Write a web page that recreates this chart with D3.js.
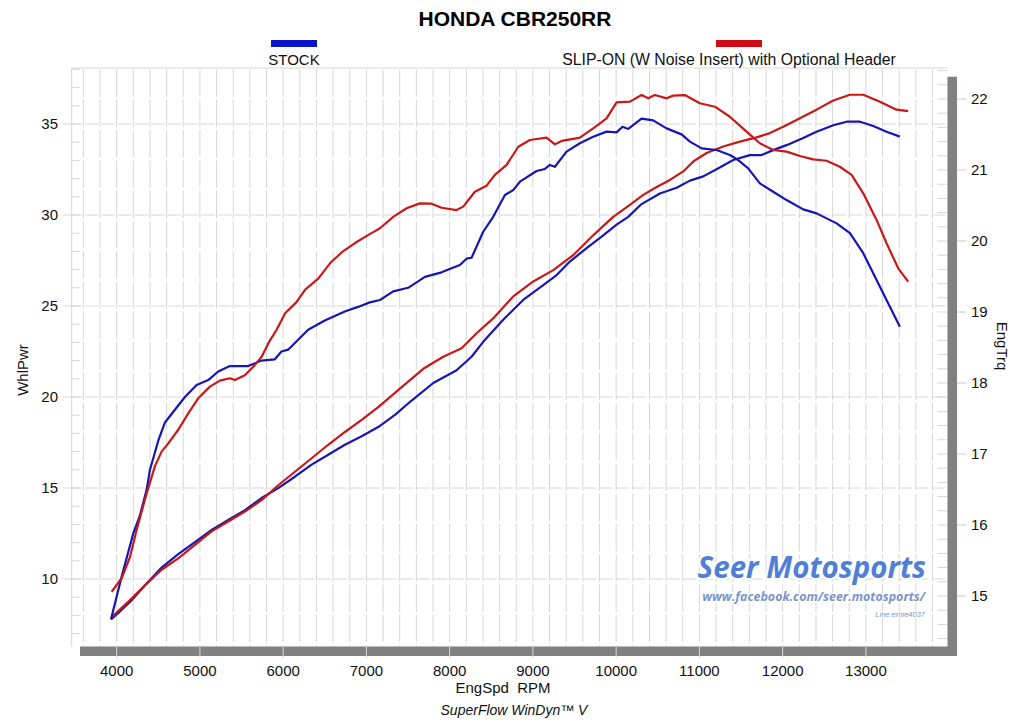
<!DOCTYPE html>
<html><head><meta charset="utf-8">
<script src="https://cdn.jsdelivr.net/npm/d3@7"></script>
<style>
html,body{margin:0;padding:0;background:#fff;}
svg{display:block;font-family:"Liberation Sans",Arial,Helvetica,sans-serif;}
</style></head>
<body><svg id="c" width="1029" height="727"></svg>
<script>
// ---------- data ----------
const title = "HONDA CBR250RR";
const seriesNames = ["STOCK", "SLIP-ON (W Noise Insert) with Optional Header"];
const xTicks = [4000,5000,6000,7000,8000,9000,10000,11000,12000,13000];
const leftTicks = [10,15,20,25,30,35];
const rightTicks = [15,16,17,18,19,20,21,22];

const stockPwrRpm = [3932,4060,4200,4280,4360,4400,4500,4580,4700,4820,4960,5100,5220,5360,5580,5740,5900,5980,6060,6300,6500,6740,6900,7040,7163,7322,7502,7703,7903,8023,8123,8203,8263,8403,8523,8664,8764,8844,9044,9144,9204,9264,9404,9564,9724,9885,10005,10077,10145,10305,10445,10605,10786,10886,11026,11206,11366,11466,11586,11726,11886,12047,12247,12407,12648,12808,12968,13128,13267,13408];
const stockPwr    = [7.79,10.13,12.51,13.5,14.9,16.0,17.6,18.6,19.3,20.0,20.66,20.93,21.4,21.7,21.7,22.0,22.07,22.5,22.6,23.7,24.2,24.7,24.95,25.2,25.33,25.8,26.0,26.6,26.85,27.07,27.25,27.6,27.65,29.08,29.9,31.1,31.37,31.83,32.42,32.53,32.75,32.65,33.48,33.94,34.3,34.58,34.54,34.85,34.73,35.3,35.2,34.76,34.43,34.03,33.66,33.57,33.3,33.02,32.56,31.74,31.28,30.82,30.31,30.09,29.54,29.0,27.9,26.43,25.15,23.86];

const slipPwrRpm = [3940,4060,4160,4240,4360,4460,4540,4620,4740,4860,4980,5120,5240,5360,5420,5540,5640,5740,5840,5920,6024,6157,6265,6421,6565,6709,6877,7045,7163,7322,7483,7643,7783,7903,8083,8163,8303,8443,8543,8684,8824,8964,9164,9264,9344,9484,9564,9724,9885,10005,10165,10305,10385,10465,10605,10685,10825,11005,11186,11366,11566,11726,11886,12047,12207,12367,12527,12687,12828,12968,13128,13248,13388,13508];
const slipPwr    = [9.30,10.04,11.2,12.7,14.7,16.2,17.0,17.45,18.2,19.1,19.93,20.57,20.9,21.03,20.93,21.2,21.66,22.2,23.1,23.68,24.6,25.2,25.9,26.5,27.36,27.97,28.5,28.96,29.27,29.9,30.37,30.64,30.62,30.4,30.27,30.46,31.28,31.61,32.2,32.75,33.75,34.12,34.25,33.88,34.07,34.18,34.25,34.76,35.31,36.19,36.23,36.59,36.41,36.59,36.41,36.56,36.59,36.14,35.95,35.4,34.58,33.94,33.57,33.48,33.24,33.06,32.98,32.65,32.2,31.19,29.73,28.45,27.07,26.34];

const stockTrqRpm = [3932,4020,4180,4340,4540,4740,4940,5141,5340,5541,5741,5941,6141,6342,6541,6742,6943,7142,7343,7550,7803,8083,8263,8403,8643,8883,9124,9285,9444,9645,9845,10005,10145,10305,10525,10726,10886,11046,11206,11406,11606,11746,11886,12047,12247,12407,12608,12768,12928,13088,13248,13408];
const stockTrq    = [14.67,14.76,14.94,15.15,15.40,15.59,15.76,15.93,16.07,16.21,16.38,16.52,16.68,16.85,16.99,17.13,17.25,17.38,17.55,17.76,18.0,18.18,18.37,18.58,18.89,19.17,19.38,19.52,19.71,19.9,20.08,20.23,20.34,20.52,20.67,20.75,20.85,20.91,21.01,21.14,21.21,21.21,21.28,21.35,21.45,21.54,21.63,21.68,21.68,21.62,21.54,21.47];

const slipTrqRpm = [3947,4139,4340,4540,4740,4940,5141,5340,5541,5741,5941,6141,6342,6541,6742,6943,7142,7403,7683,7923,8143,8323,8523,8764,9004,9244,9484,9724,9964,10165,10325,10486,10646,10806,10926,11086,11286,11486,11687,11847,12007,12207,12407,12608,12808,12968,13168,13368,13508];
const slipTrq    = [14.71,14.92,15.15,15.37,15.53,15.72,15.91,16.05,16.19,16.35,16.56,16.75,16.94,17.13,17.31,17.48,17.66,17.92,18.2,18.37,18.49,18.7,18.91,19.22,19.43,19.59,19.8,20.08,20.34,20.51,20.65,20.76,20.86,20.98,21.12,21.24,21.33,21.4,21.46,21.52,21.61,21.73,21.85,21.98,22.06,22.06,21.96,21.85,21.83];

// ---------- layout ----------
const svg = d3.select("#c");
const L = 71.7, R = 947.5, T = 68, B = 646.5;
const x  = d3.scaleLinear().domain([3460, 13980]).range([L, R]);
const yL = d3.scaleLinear().domain([10, 35]).range([579, 124]);
const yR = d3.scaleLinear().domain([15, 22]).range([596, 99]);
const grid = "#d6d6d6";
const blue = "#1616b0", red = "#c81818";

// plot background grid
const g = svg.append("g");
const vLines = d3.range(3600, 13900, 200);
g.selectAll(".vg").data(vLines).join("line")
  .attr("x1", d => x(d)).attr("x2", d => x(d))
  .attr("y1", T).attr("y2", B)
  .attr("stroke", grid).attr("stroke-width", 1)
  .attr("stroke-dasharray", "27.3,3").attr("stroke-dashoffset", -1.5);
g.selectAll(".hg").data(leftTicks).join("line")
  .attr("x1", L).attr("x2", R)
  .attr("y1", d => yL(d)).attr("y2", d => yL(d))
  .attr("stroke", grid).attr("stroke-width", 1)
  .attr("stroke-dasharray", "13.6,3").attr("stroke-dashoffset", -(x(3600) - L + 1.5 - 16.6));
// frame top/left
g.append("line").attr("x1", L).attr("x2", R).attr("y1", T).attr("y2", T).attr("stroke", grid);
g.append("line").attr("x1", L).attr("x2", L).attr("y1", T).attr("y2", B).attr("stroke", grid);
// left minor ticks
g.selectAll(".lm").data(d3.range(7, 39)).join("line")
  .attr("x1", L).attr("x2", L + 8)
  .attr("y1", d => yL(d)).attr("y2", d => yL(d))
  .attr("stroke", grid);
// right minor ticks
g.selectAll(".rm").data(d3.range(144, 225, 2).map(d => d / 10)).join("line")
  .attr("x1", R - 10).attr("x2", R)
  .attr("y1", d => yR(d)).attr("y2", d => yR(d))
  .attr("stroke", grid);

// gray 3D bars
svg.append("rect").attr("x", 80).attr("y", B).attr("width", 957 - 80).attr("height", 9.5).attr("fill", "#808080");
svg.append("rect").attr("x", R).attr("y", 76.7).attr("width", 957 - R).attr("height", B + 9.5 - 76.7).attr("fill", "#808080");

// axes
const tickFont = 15;
svg.selectAll(".xt").data(xTicks).join("line")
  .attr("x1", d => x(d)).attr("x2", d => x(d)).attr("y1", B).attr("y2", 658)
  .attr("stroke", "#d8d8d8");
svg.selectAll(".xl").data(xTicks).join("text")
  .attr("x", d => x(d)).attr("y", 676).attr("text-anchor", "middle")
  .attr("font-size", tickFont).attr("fill", "#111").text(d => d);
svg.selectAll(".lt").data(leftTicks).join("line")
  .attr("x1", 63).attr("x2", L).attr("y1", d => yL(d)).attr("y2", d => yL(d)).attr("stroke", grid);
svg.selectAll(".ll").data(leftTicks).join("text")
  .attr("x", 58).attr("y", d => yL(d)).attr("dy", "0.36em").attr("text-anchor", "end")
  .attr("font-size", tickFont).attr("fill", "#111").text(d => d);
svg.selectAll(".rt").data(rightTicks).join("line")
  .attr("x1", 957).attr("x2", 966).attr("y1", d => yR(d)).attr("y2", d => yR(d)).attr("stroke", "#c8c8c8");
svg.selectAll(".rl").data(rightTicks).join("text")
  .attr("x", 971).attr("y", d => yR(d)).attr("dy", "0.36em").attr("text-anchor", "start")
  .attr("font-size", tickFont).attr("fill", "#111").text(d => d);

// axis titles
svg.append("text").attr("transform", "translate(28,370) rotate(-90)").attr("text-anchor", "middle")
  .attr("font-size", 15).attr("fill", "#111").text("WhlPwr");
svg.append("text").attr("transform", "translate(997,346) rotate(90)").attr("text-anchor", "middle")
  .attr("font-size", 15).attr("fill", "#111").text("EngTrq");
svg.append("text").attr("x", 503).attr("y", 693).attr("text-anchor", "middle")
  .attr("font-size", 15).attr("fill", "#111").attr("xml:space", "preserve").text("EngSpd  RPM");
svg.append("text").attr("x", 514).attr("y", 715).attr("text-anchor", "middle")
  .attr("font-size", 14).attr("font-style", "italic").attr("fill", "#111").text("SuperFlow WinDyn\u2122 V");

// title
svg.append("text").attr("x", 515).attr("y", 26).attr("text-anchor", "middle")
  .attr("font-size", 21).attr("font-weight", "bold").attr("fill", "#000").text(title);

// legend
const legend = [
  {name: seriesNames[0], cx: 294, tx: 294, fs: 15, col: "#0a14c8"},
  {name: seriesNames[1], cx: 739, tx: 729, fs: 15.8, col: "#d00a14"}
];
legend.forEach(l => {
  svg.append("rect").attr("x", l.cx - 23).attr("y", 40).attr("width", 46).attr("height", 7).attr("fill", l.col);
  svg.append("text").attr("x", l.tx).attr("y", 65).attr("text-anchor", "middle")
    .attr("font-size", l.fs).attr("fill", "#111").text(l.name);
});

// watermark
const wm = svg.append("g").attr("paint-order", "stroke");
wm.append("text").attr("x", 926).attr("y", 578).attr("text-anchor", "end")
  .attr("font-family", "'Open Sans','Noto Sans',sans-serif").attr("font-size", 29.5).attr("font-weight", "bold").attr("font-style", "italic")
  .attr("fill", "#4f7fd6").attr("stroke", "#fff").attr("stroke-width", 4).text("Seer Motosports");
wm.append("text").attr("x", 925).attr("y", 601).attr("text-anchor", "end")
  .attr("font-family", "'Open Sans','Noto Sans',sans-serif").attr("font-size", 12.5).attr("font-weight", "bold").attr("font-style", "italic")
  .attr("fill", "#7a95c8").attr("stroke", "#fff").attr("stroke-width", 3).text("www.facebook.com/seer.motosports/");
wm.append("text").attr("x", 925).attr("y", 617).attr("text-anchor", "end")
  .attr("font-size", 7.5).attr("font-style", "italic")
  .attr("fill", "#7a95c8").attr("stroke", "#fff").attr("stroke-width", 2).text("Line:ernie4037");

// curves
const mk = (rpm, vals) => rpm.map((r, i) => [r, vals[i]]);
const lineL = d3.line().x(d => x(d[0])).y(d => yL(d[1]));
const lineR = d3.line().x(d => x(d[0])).y(d => yR(d[1]));
const curves = [
  {d: mk(stockTrqRpm, stockTrq), ln: lineR, c: blue},
  {d: mk(slipTrqRpm, slipTrq), ln: lineR, c: red},
  {d: mk(stockPwrRpm, stockPwr), ln: lineL, c: blue},
  {d: mk(slipPwrRpm, slipPwr), ln: lineL, c: red}
];
svg.append("g").selectAll("path").data(curves).join("path")
  .attr("d", c => c.ln(c.d)).attr("fill", "none").attr("stroke", c => c.c)
  .attr("stroke-width", 2.2).attr("stroke-linejoin", "round");
</script></body></html>
